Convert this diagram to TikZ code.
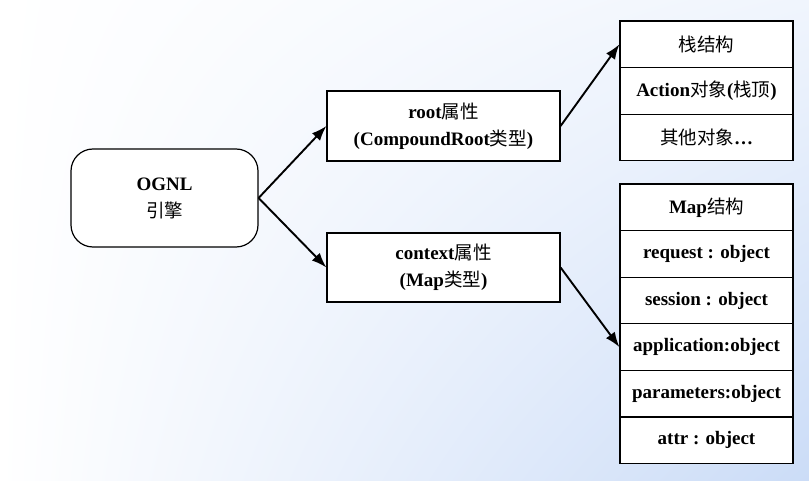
\documentclass[tikz,border=0pt]{standalone}
\usepackage{fontspec}
\setmainfont{Liberation Serif}
\newfontfamily\cjk{Noto Sans CJK SC}
\usetikzlibrary{arrows.meta,shadings}
\definecolor{bgtr}{RGB}{240,245,253}
\definecolor{bgbr}{RGB}{203,220,247}
\tikzset{
  box/.style={draw=black, line width=1.2pt, fill=white, inner sep=0pt, align=center, font=\fontsize{19pt}{27pt}\selectfont\bfseries},
  rowbox/.style={box, minimum width=173pt, minimum height=46.6pt},
  conn/.style={line width=1.9pt, -{Latex[length=15pt,width=11pt]}, shorten >=0pt},
}
\newcommand{\zh}[1]{{\cjk\mdseries\fontsize{18.5pt}{27pt}\selectfont #1}}
\begin{document}
\begin{tikzpicture}[x=1pt,y=-1pt]
\useasboundingbox (0,0) rectangle (809,481);
\shade[upper left=white, lower left=white, upper right=bgtr, lower right=bgbr] (0,0) rectangle (809,481);
\node[box, rounded corners=22pt, minimum width=187pt, minimum height=98pt] (ognl) at (164.5,198) {OGNL\\\zh{引擎}};
\node[box, minimum width=233pt, minimum height=70pt] (root) at (443.5,126) {root\zh{属性}\\(CompoundRoot\zh{类型})};
\node[box, minimum width=233pt, minimum height=69pt] (ctx) at (443.5,267.5) {context\zh{属性}\\(Map\zh{类型})};
\node[rowbox] (s1) at (706.5,44.3) {\zh{栈结构}};
\node[rowbox] (s2) at (706.5,90.9) {Action\zh{对象}(\zh{栈顶})};
\node[rowbox] (s3) at (706.5,137.5) {\zh{其他对象}\textbf{\symbol{"2026}}};
\node[rowbox] (m1) at (706.5,207.3) {Map\zh{结构}};
\node[rowbox] (m2) at (706.5,253.9) {request : object};
\node[rowbox] (m3) at (706.5,300.5) {session : object};
\node[rowbox] (m4) at (706.5,347.1) {application:object};
\node[rowbox] (m5) at (706.5,393.7) {parameters:object};
\node[rowbox] (m6) at (706.5,440.3) {attr : object};
\draw[conn] (ognl.east) -- (root.west);
\draw[conn] (ognl.east) -- (ctx.west);
\draw[conn] (root.east) -- (s1.west);
\draw[conn] (ctx.east) -- (m4.west);
\end{tikzpicture}
\end{document}
